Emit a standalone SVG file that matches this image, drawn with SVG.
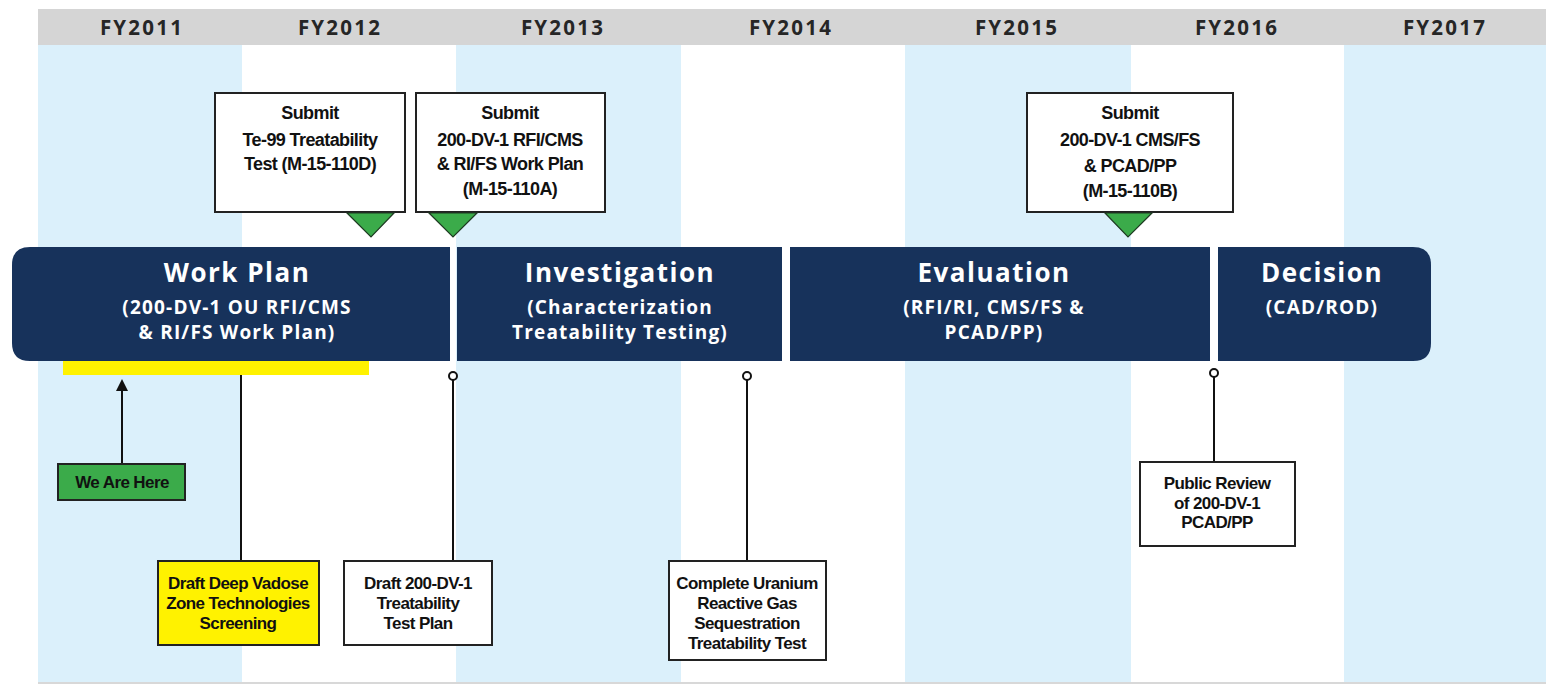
<svg xmlns="http://www.w3.org/2000/svg" width="1546" height="685" viewBox="0 0 1546 685">
<style>
.hdr{font-family:"Open Sans","Liberation Sans",sans-serif;font-weight:bold;font-size:20.5px;fill:#262626;text-anchor:middle;letter-spacing:2.2px}
.ph{font-family:"Open Sans","Liberation Sans",sans-serif;font-weight:bold;fill:#fff;text-anchor:middle}
.pt{font-size:26px;letter-spacing:1.5px}
.ps{font-size:19px;letter-spacing:1.2px}
.bt{font-family:"Liberation Sans",Arial,sans-serif;font-weight:bold;font-size:18px;fill:#111;text-anchor:middle;letter-spacing:-0.6px}
.bb{font-family:"Liberation Sans",Arial,sans-serif;font-weight:bold;font-size:17px;fill:#111;text-anchor:middle;letter-spacing:-0.6px}
.box{stroke:#222;stroke-width:2}
.tri{fill:#3bab4a;stroke:#1e3b22;stroke-width:1.2}
.bar{fill:#17325b}
.ln{stroke:#111;stroke-width:2;fill:none}
.dot{fill:#fff;stroke:#111;stroke-width:2}
</style>
<rect x="0" y="0" width="1546" height="685" fill="#fff"/>
<g id="columns">
<rect x="38" y="45" width="204" height="638" fill="#dbf0fb"/>
<rect x="456" y="45" width="225" height="638" fill="#dbf0fb"/>
<rect x="905" y="45" width="226" height="638" fill="#dbf0fb"/>
<rect x="1344" y="45" width="202" height="638" fill="#dbf0fb"/>
<rect x="38" y="682" width="1508" height="2" fill="#d8d8d8"/>
</g>
<g id="header">
<rect x="38" y="9" width="1508" height="36" fill="#d5d5d5"/>
<text class="hdr" x="142" y="35">FY2011</text>
<text class="hdr" x="340" y="35">FY2012</text>
<text class="hdr" x="563" y="35">FY2013</text>
<text class="hdr" x="791" y="35">FY2014</text>
<text class="hdr" x="1017" y="35">FY2015</text>
<text class="hdr" x="1237" y="35">FY2016</text>
<text class="hdr" x="1445" y="35">FY2017</text>
</g>
<g id="phase-workplan">
<path class="bar" d="M30,247 H450 V361 H30 Q12,361 12,343 V265 Q12,247 30,247 Z"/>
<text class="ph pt" x="237" y="282">Work Plan</text>
<text class="ph ps" x="237" y="314">(200-DV-1 OU RFI/CMS</text>
<text class="ph ps" x="237" y="339">&amp; RI/FS Work Plan)</text>
</g>
<g id="phase-investigation">
<rect class="bar" x="457" y="247" width="325" height="114"/>
<text class="ph pt" x="620" y="282">Investigation</text>
<text class="ph ps" x="620" y="314">(Characterization</text>
<text class="ph ps" x="620" y="339">Treatability Testing)</text>
</g>
<g id="phase-evaluation">
<rect class="bar" x="790" y="247" width="420" height="114"/>
<text class="ph pt" x="994" y="282">Evaluation</text>
<text class="ph ps" x="994" y="314">(RFI/RI, CMS/FS &amp;</text>
<text class="ph ps" x="994" y="339">PCAD/PP)</text>
</g>
<g id="phase-decision">
<path class="bar" d="M1218,247 H1413 Q1431,247 1431,265 V343 Q1431,361 1413,361 H1218 Z"/>
<text class="ph pt" x="1322" y="282">Decision</text>
<text class="ph ps" x="1322" y="314">(CAD/ROD)</text>
</g>
<g id="connectors">
<rect x="63" y="361" width="306" height="14" fill="#fff200"/>
<line class="ln" x1="122" y1="464" x2="122" y2="388"/>
<path d="M122,379 L128,391 L116,391 Z" fill="#111"/>
<line class="ln" x1="241" y1="375" x2="241" y2="561"/>
<line class="ln" x1="453" y1="380" x2="453" y2="561"/>
<circle class="dot" cx="453" cy="376" r="4"/>
<line class="ln" x1="747" y1="380" x2="747" y2="561"/>
<circle class="dot" cx="747" cy="376" r="4"/>
<line class="ln" x1="1214" y1="377" x2="1214" y2="462"/>
<circle class="dot" cx="1214" cy="373" r="4"/>
</g>
<g id="ms-te99">
<rect class="box" x="215" y="93" width="190" height="119" fill="#fff"/>
<path class="tri" d="M347,213 L394,213 L371,237 Z"/>
<text class="bt" x="310" y="119">Submit</text>
<text class="bt" x="310" y="146">Te-99 Treatability</text>
<text class="bt" x="310" y="170">Test (M-15-110D)</text>
</g>
<g id="ms-workplan">
<rect class="box" x="416" y="93" width="189" height="119" fill="#fff"/>
<path class="tri" d="M429,213 L477,213 L453,237 Z"/>
<text class="bt" x="510" y="119">Submit</text>
<text class="bt" x="510" y="146">200-DV-1 RFI/CMS</text>
<text class="bt" x="510" y="170">&amp; RI/FS Work Plan</text>
<text class="bt" x="510" y="195">(M-15-110A)</text>
</g>
<g id="ms-cmsfs">
<rect class="box" x="1027" y="93" width="206" height="119" fill="#fff"/>
<path class="tri" d="M1105,213 L1152,213 L1128,237 Z"/>
<text class="bt" x="1130" y="119">Submit</text>
<text class="bt" x="1130" y="146">200-DV-1 CMS/FS</text>
<text class="bt" x="1130" y="172">&amp; PCAD/PP</text>
<text class="bt" x="1130" y="197">(M-15-110B)</text>
</g>
<g id="we-are-here">
<rect class="box" x="58" y="464" width="127" height="36" fill="#3bab4a"/>
<text class="bb" x="122" y="488">We Are Here</text>
</g>
<g id="dvz-screening">
<rect class="box" x="158" y="561" width="161" height="84" fill="#fff200"/>
<text class="bb" x="238" y="589">Draft Deep Vadose</text>
<text class="bb" x="238" y="609">Zone Technologies</text>
<text class="bb" x="238" y="629">Screening</text>
</g>
<g id="test-plan">
<rect class="box" x="344" y="561" width="148" height="84" fill="#fff"/>
<text class="bb" x="418" y="589">Draft 200-DV-1</text>
<text class="bb" x="418" y="609">Treatability</text>
<text class="bb" x="418" y="629">Test Plan</text>
</g>
<g id="uranium-test">
<rect class="box" x="669" y="561" width="157" height="99" fill="#fff"/>
<text class="bb" x="747" y="589">Complete Uranium</text>
<text class="bb" x="747" y="609">Reactive Gas</text>
<text class="bb" x="747" y="629">Sequestration</text>
<text class="bb" x="747" y="649">Treatability Test</text>
</g>
<g id="public-review">
<rect class="box" x="1140" y="462" width="155" height="84" fill="#fff"/>
<text class="bb" x="1217" y="489">Public Review</text>
<text class="bb" x="1217" y="509">of 200-DV-1</text>
<text class="bb" x="1217" y="528">PCAD/PP</text>
</g>
</svg>
